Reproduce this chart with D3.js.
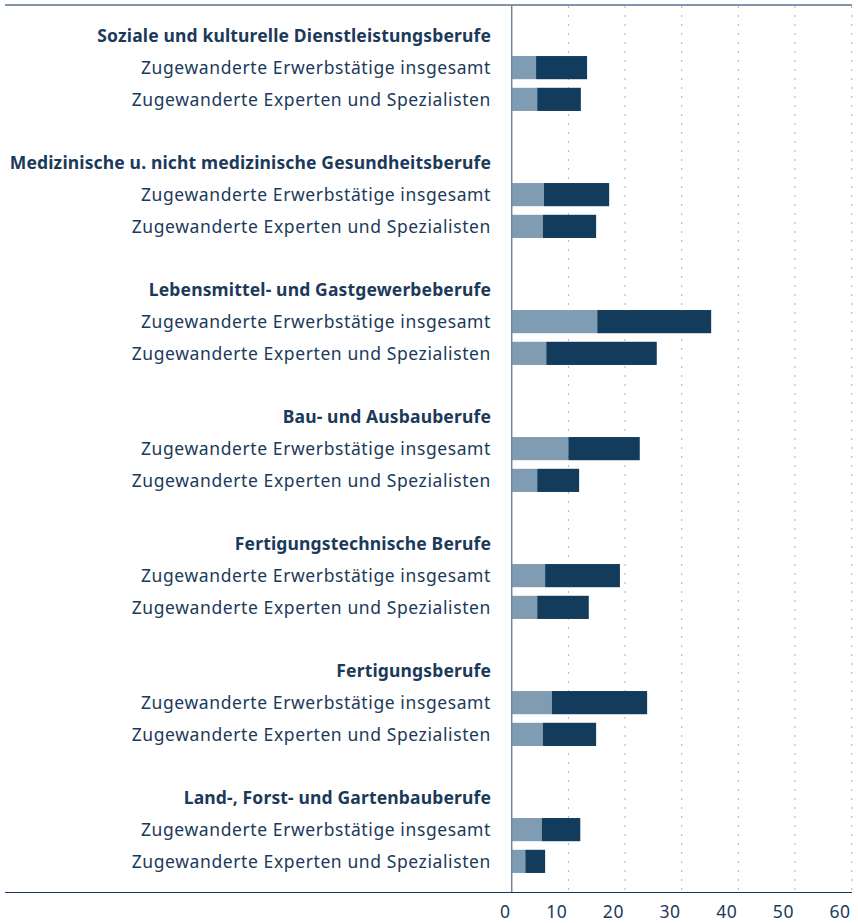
<!DOCTYPE html>
<html>
<head>
<meta charset="utf-8">
<script src="https://cdn.jsdelivr.net/npm/d3@7"></script>
<style>
  html, body { margin: 0; padding: 0; background: #fff; }
  svg { display: block; font-family: "Noto Sans", Lato, sans-serif; }
</style>
</head>
<body>
<div id="chart"></div>
<script>
// Berufsgruppen (Kategorien)
const groups = [
  'Soziale und kulturelle Dienstleistungsberufe',
  'Medizinische u. nicht medizinische Gesundheitsberufe',
  'Lebensmittel- und Gastgewerbeberufe',
  'Bau- und Ausbauberufe',
  'Fertigungstechnische Berufe',
  'Fertigungsberufe',
  'Land-, Forst- und Gartenbauberufe'
];
const subLabels = ['Zugewanderte Erwerbstätige insgesamt', 'Zugewanderte Experten und Spezialisten'];

// helles Segment (je Gruppe: insgesamt, Experten)
const lightValues = [
  [4.3, 4.5],
  [5.7, 5.5],
  [15.1, 6.1],
  [10.0, 4.5],
  [5.9, 4.5],
  [7.1, 5.5],
  [5.3, 2.4]
];
// dunkles Segment (je Gruppe: insgesamt, Experten)
const darkValues = [
  [9.0, 7.7],
  [11.5, 9.4],
  [20.1, 19.5],
  [12.6, 7.4],
  [13.2, 9.1],
  [16.8, 9.4],
  [6.8, 3.5]
];
const xTicks = [0, 10, 20, 30, 40, 50, 60];

const width = 858, height = 923;
const textColor = '#1b3a5a';
const lightColor = '#809cb3';
const darkColor = '#123b5c';
const fontSize = 17.5;

const svg = d3.select('#chart').append('svg')
  .attr('width', width)
  .attr('height', height);

// Zeilen aufbauen: Überschrift, zwei Balken, Leerzeile
const rows = [];
groups.forEach((g, gi) => {
  rows.push({ id: 'h' + gi, type: 'header', label: g });
  subLabels.forEach((s, si) => {
    rows.push({ id: 'b' + gi + '_' + si, type: 'bar', label: s,
      light: lightValues[gi][si], dark: darkValues[gi][si] });
  });
  if (gi < groups.length - 1) rows.push({ id: 'g' + gi, type: 'gap' });
});

const x = d3.scaleLinear().domain([0, 60]).range([511.7, 851.7]);
const y = d3.scaleBand().domain(rows.map(r => r.id)).range([20, 877.25]);
const barH = y.bandwidth() * 0.73;

// Rahmenlinie oben
svg.append('line')
  .attr('x1', 5).attr('x2', 852).attr('y1', 5).attr('y2', 5)
  .attr('stroke', '#7f96ab').attr('stroke-width', 2);

// Gitterlinien
svg.append('g').selectAll('line')
  .data(xTicks.filter(d => d > 0))
  .enter().append('line')
  .attr('x1', d => x(d)).attr('x2', d => x(d))
  .attr('y1', 6).attr('y2', 892)
  .attr('stroke', '#9fb3c6')
  .attr('stroke-width', 1)
  .attr('stroke-dasharray', '2,7');

// Balken
const barRows = rows.filter(r => r.type === 'bar');
const bars = svg.append('g');
bars.selectAll('.light')
  .data(barRows).enter().append('rect')
  .attr('class', 'light')
  .attr('x', x(0))
  .attr('y', d => y(d.id) + (y.bandwidth() - barH) / 2)
  .attr('width', d => x(d.light) - x(0))
  .attr('height', barH)
  .attr('fill', lightColor);
bars.selectAll('.dark')
  .data(barRows).enter().append('rect')
  .attr('class', 'dark')
  .attr('x', d => x(d.light))
  .attr('y', d => y(d.id) + (y.bandwidth() - barH) / 2)
  .attr('width', d => x(d.light + d.dark) - x(d.light))
  .attr('height', barH)
  .attr('fill', darkColor);

// Nulllinie
svg.append('line')
  .attr('x1', x(0)).attr('x2', x(0)).attr('y1', 5).attr('y2', 892)
  .attr('stroke', '#6f879d').attr('stroke-width', 1.5);

// Achse unten
svg.append('line')
  .attr('x1', 5).attr('x2', 852).attr('y1', 892.5).attr('y2', 892.5)
  .attr('stroke', textColor).attr('stroke-width', 1);

svg.append('g').selectAll('text')
  .data(xTicks).enter().append('text')
  .attr('x', d => x(d) - 1)
  .attr('y', 918)
  .attr('text-anchor', 'end')
  .attr('fill', textColor)
  .style('font-size', fontSize + 'px')
  .style('letter-spacing', '0.6px')
  .text(d => d);

// Beschriftungen
svg.append('g').selectAll('text')
  .data(rows.filter(r => r.type !== 'gap'))
  .enter().append('text')
  .attr('x', 491)
  .attr('y', d => y(d.id) + y.bandwidth() / 2)
  .attr('dy', '0.36em')
  .attr('text-anchor', 'end')
  .attr('fill', textColor)
  .style('font-size', fontSize + 'px')
  .style('font-weight', d => d.type === 'header' ? 700 : 400)
  .style('letter-spacing', d => d.type === 'header' ? '0.15px' : '0.6px')
  .text(d => d.label);
</script>
</body>
</html>
